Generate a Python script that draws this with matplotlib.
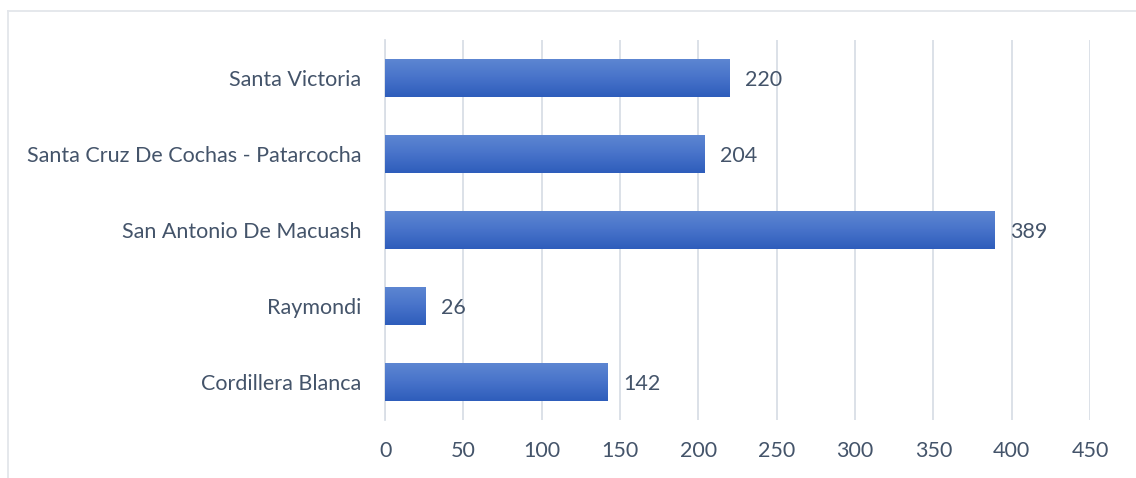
import matplotlib.pyplot as plt
import numpy as np
from matplotlib.colors import LinearSegmentedColormap
from matplotlib.lines import Line2D

# Datos (de abajo hacia arriba)
categorias = ['Cordillera Blanca', 'Raymondi', 'San Antonio De Macuash',
              'Santa Cruz De Cochas - Patarcocha', 'Santa Victoria']
valores = [142, 26, 389, 204, 220]
ticks_x = [0, 50, 100, 150, 200, 250, 300, 350, 400, 450]

color_texto = '#44546A'
color_grid = '#D9DEE6'

plt.rcParams['font.family'] = ['Lato', 'DejaVu Sans']

fig = plt.figure(figsize=(11.36, 4.78), dpi=100)
ax = fig.add_axes([0.339, 0.121, 0.6205, 0.795])

y = np.arange(len(categorias))
bars = ax.barh(y, valores, height=0.5, color='none', zorder=3)

# Degradado vertical en cada barra
cmap = LinearSegmentedColormap.from_list('azul', ['#2E5DBB', '#4873CA', '#5E87D2'])
grad = np.linspace(0, 1, 256).reshape(-1, 1)
for bar in bars:
    x0, y0 = bar.get_x(), bar.get_y()
    w, h = bar.get_width(), bar.get_height()
    im = ax.imshow(grad, cmap=cmap, aspect='auto', origin='lower',
                   extent=[x0, x0 + w, y0, y0 + h], zorder=3)
    im.set_clip_path(bar)
    ax.text(x0 + w + 10, y0 + h / 2 - 0.02, f'{int(w)}', va='center', ha='left',
            fontsize=15.5, color=color_texto)

ax.set_xlim(0, 450)
ax.set_ylim(-0.5, len(categorias) - 0.5)
ax.set_xticks(ticks_x)
ax.set_yticks(y)
ax.set_yticklabels(categorias)
ax.tick_params(axis='both', length=0, labelsize=15.5, labelcolor=color_texto)
ax.tick_params(axis='x', pad=15)
ax.tick_params(axis='y', pad=17)
ax.xaxis.grid(True, color=color_grid, linewidth=1.3, zorder=0)
ax.set_axisbelow(True)
for s in ['top', 'right', 'bottom']:
    ax.spines[s].set_visible(False)
ax.spines['left'].set_color(color_grid)
ax.spines['left'].set_linewidth(1.3)

# Marco exterior del gráfico
fig.add_artist(Line2D([7.5 / 1136, 1], [1 - 10.5 / 478, 1 - 10.5 / 478],
                      transform=fig.transFigure, color='#E3E6EB', linewidth=1.3))
fig.add_artist(Line2D([7.5 / 1136, 7.5 / 1136], [0, 1 - 10.5 / 478],
                      transform=fig.transFigure, color='#E3E6EB', linewidth=1.3))

fig.savefig('out.png', dpi=100)
